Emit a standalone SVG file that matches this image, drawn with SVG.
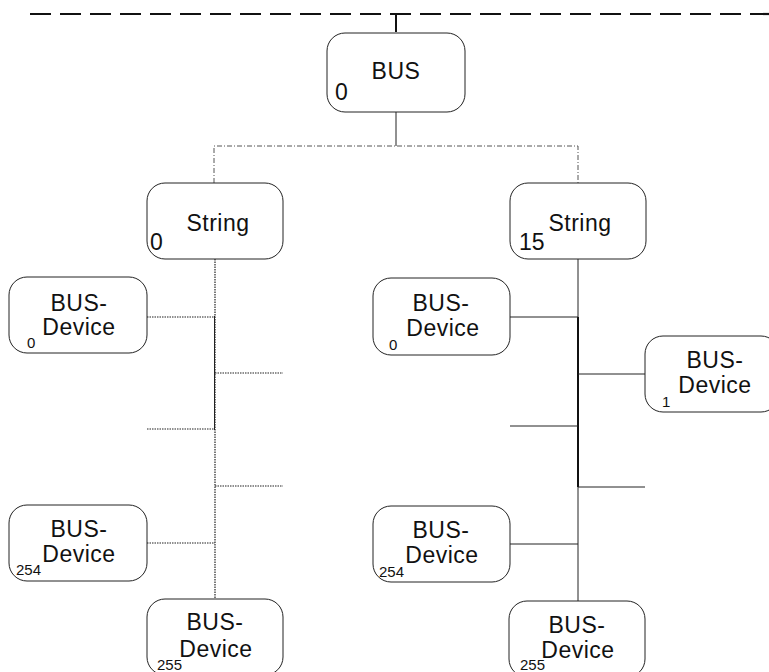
<svg xmlns="http://www.w3.org/2000/svg" width="769" height="672" viewBox="0 0 769 672">
<style>
.box{fill:#fff;stroke:#222;stroke-width:1}
.t{font-family:"Liberation Sans",Arial,sans-serif;fill:#111;font-size:23px;letter-spacing:0.5px}
.c{text-anchor:middle}
.n{font-family:"Liberation Sans",Arial,sans-serif;fill:#111;font-size:23px}
.s{font-family:"Liberation Sans",Arial,sans-serif;fill:#111;font-size:15px}
.solid{stroke:#222;stroke-width:1;fill:none}
.dd{stroke:#555;stroke-width:1;stroke-dasharray:5 2 1 2;fill:none}
.dot{stroke:#222;stroke-width:1.2;stroke-dasharray:1.5 1;fill:none}
</style>
<g id="connectors">
<line x1="30" y1="14" x2="769" y2="14" stroke="#111" stroke-width="2.2" stroke-dasharray="21 9"/>
<line x1="396" y1="14" x2="396" y2="32" stroke="#111" stroke-width="2"/>
<line class="solid" x1="396" y1="112" x2="396" y2="146"/>
<polyline class="dd" points="214,183 214,146 578,146 578,183"/>
<line class="dot" x1="215" y1="259" x2="215" y2="599"/>
<line class="solid" x1="214.5" y1="316" x2="214.5" y2="430"/>
<line class="dot" x1="147" y1="317" x2="215" y2="317"/>
<line class="dot" x1="215" y1="373" x2="283" y2="373"/>
<line class="dot" x1="147" y1="429" x2="215" y2="429"/>
<line class="dot" x1="215" y1="486" x2="283" y2="486"/>
<line class="dot" x1="147" y1="543" x2="215" y2="543"/>
<line class="solid" x1="578" y1="259" x2="578" y2="601"/>
<line x1="578" y1="317" x2="578" y2="487" stroke="#111" stroke-width="2"/>
<line class="solid" x1="510" y1="317" x2="578" y2="317"/>
<line class="solid" x1="578" y1="374" x2="645" y2="374"/>
<line class="solid" x1="510" y1="426" x2="578" y2="426"/>
<line class="solid" x1="578" y1="487" x2="645" y2="487"/>
<line class="solid" x1="510" y1="544" x2="578" y2="544"/>
</g>
<g id="bus">
<rect class="box" x="327" y="33" width="138" height="79" rx="18"/>
<text class="t c" x="396" y="79">BUS</text>
<text class="n" x="335" y="100">0</text>
</g>
<g id="string0">
<rect class="box" x="147" y="183" width="136" height="76" rx="18"/>
<text class="t c" x="218" y="231">String</text>
<text class="n" x="150" y="250">0</text>
</g>
<g id="string15">
<rect class="box" x="510" y="183" width="136" height="76" rx="18"/>
<text class="t c" x="580" y="231">String</text>
<text class="n" x="519" y="250">15</text>
</g>
<g id="dev-l0">
<rect class="box" x="9" y="277" width="138" height="76" rx="18"/>
<text class="t c" x="79" y="311">BUS-</text>
<text class="t c" x="79" y="335">Device</text>
<text class="s" x="27" y="348">0</text>
</g>
<g id="dev-l254">
<rect class="box" x="9" y="505" width="138" height="76" rx="18"/>
<text class="t c" x="79" y="537">BUS-</text>
<text class="t c" x="79" y="562">Device</text>
<text class="s" x="16" y="575">254</text>
</g>
<g id="dev-l255">
<rect class="box" x="147" y="599" width="136" height="76" rx="18"/>
<text class="t c" x="215" y="630">BUS-</text>
<text class="t c" x="216" y="657">Device</text>
<text class="s" x="157" y="670">255</text>
</g>
<g id="dev-r0">
<rect class="box" x="373" y="278" width="137" height="77" rx="18"/>
<text class="t c" x="441" y="311">BUS-</text>
<text class="t c" x="443" y="336">Device</text>
<text class="s" x="389" y="350">0</text>
</g>
<g id="dev-r1">
<rect class="box" x="645" y="336" width="134" height="76" rx="18"/>
<text class="t c" x="715" y="368">BUS-</text>
<text class="t c" x="715" y="393">Device</text>
<text class="s" x="662" y="407">1</text>
</g>
<g id="dev-r254">
<rect class="box" x="373" y="506" width="137" height="76" rx="18"/>
<text class="t c" x="441" y="538">BUS-</text>
<text class="t c" x="442" y="563">Device</text>
<text class="s" x="379" y="577">254</text>
</g>
<g id="dev-r255">
<rect class="box" x="509" y="601" width="136" height="76" rx="18"/>
<text class="t c" x="577" y="633">BUS-</text>
<text class="t c" x="578" y="658">Device</text>
<text class="s" x="520" y="670">255</text>
</g>
</svg>
